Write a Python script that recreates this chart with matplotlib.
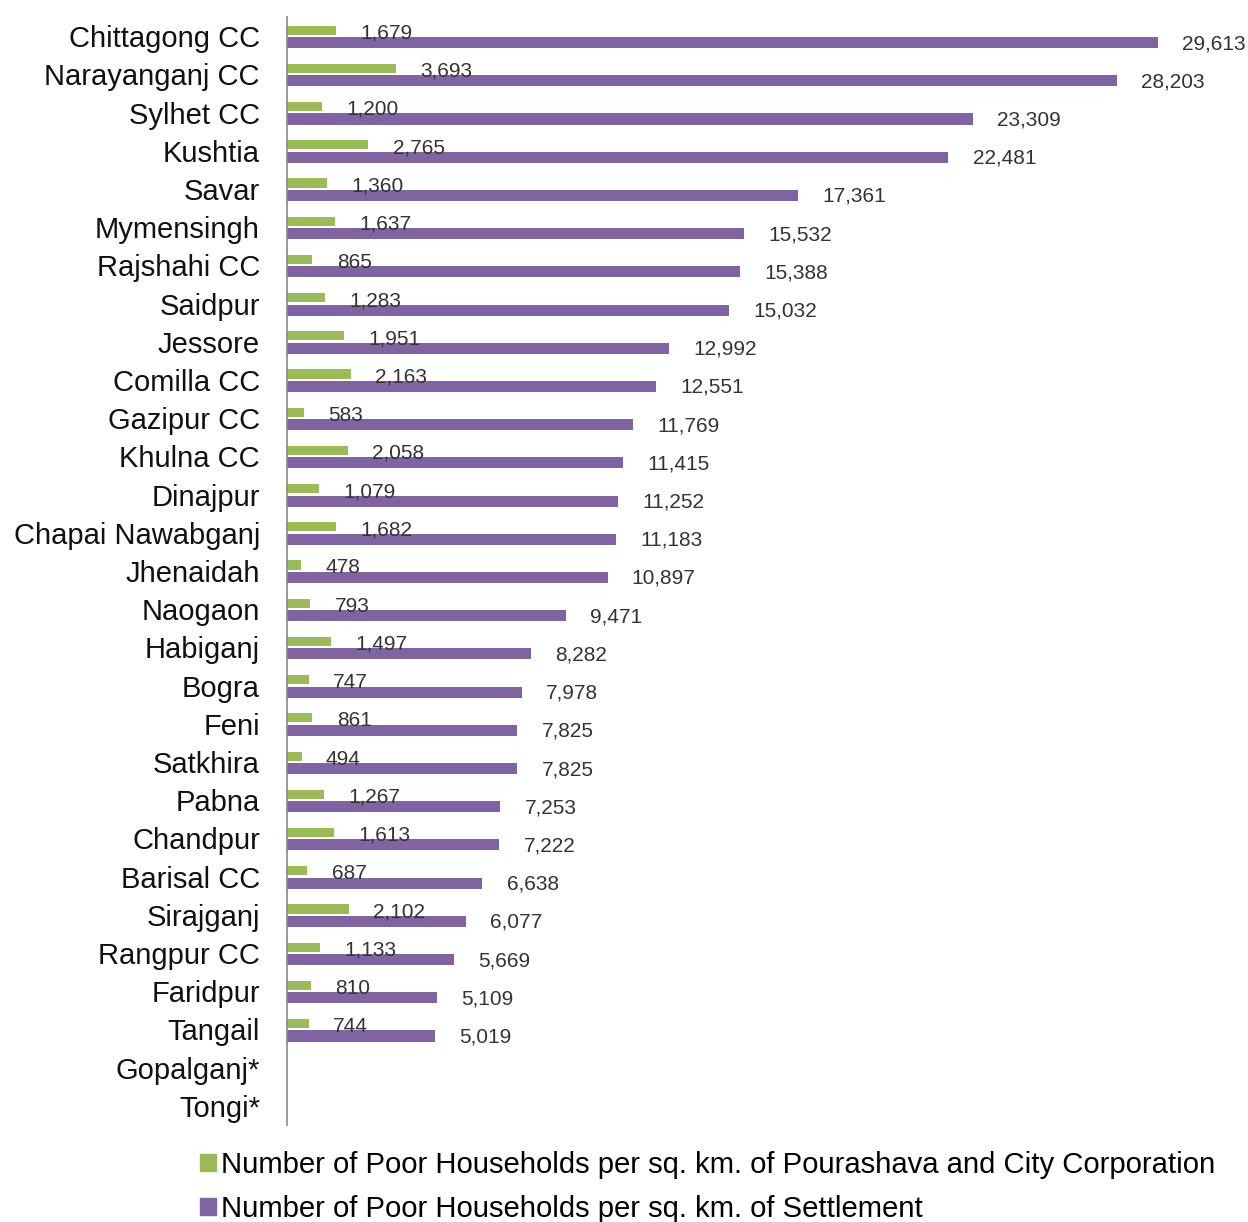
import matplotlib
matplotlib.use("Agg")
import matplotlib.pyplot as plt
from matplotlib.patches import Patch
import numpy as np

categories = ["Chittagong CC", "Narayanganj CC", "Sylhet CC", "Kushtia", "Savar",
              "Mymensingh", "Rajshahi CC", "Saidpur", "Jessore", "Comilla CC",
              "Gazipur CC", "Khulna CC", "Dinajpur", "Chapai Nawabganj", "Jhenaidah",
              "Naogaon", "Habiganj", "Bogra", "Feni", "Satkhira", "Pabna", "Chandpur",
              "Barisal CC", "Sirajganj", "Rangpur CC", "Faridpur", "Tangail",
              "Gopalganj*", "Tongi*"]
pourashava = [1679, 3693, 1200, 2765, 1360, 1637, 865, 1283, 1951, 2163,
              583, 2058, 1079, 1682, 478, 793, 1497, 747, 861, 494, 1267, 1613,
              687, 2102, 1133, 810, 744, None, None]
settlement = [29613, 28203, 23309, 22481, 17361, 15532, 15388, 15032, 12992, 12551,
              11769, 11415, 11252, 11183, 10897, 9471, 8282, 7978, 7825, 7825, 7253, 7222,
              6638, 6077, 5669, 5109, 5019, None, None]
series_names = ["Number of Poor Households per sq. km. of Pourashava and City Corporation",
                "Number of Poor Households per sq. km. of Settlement"]

GREEN = "#9BBB59"
PURPLE = "#8064A2"
FONT = ["Liberation Sans", "DejaVu Sans"]
plt.rcParams["font.family"] = FONT

W, H = 1248, 1222
fig = plt.figure(figsize=(W / 100, H / 100), dpi=100)
ax_left, ax_right = 287, 1240
ax_top, ax_bot = 17, 1125
ax = fig.add_axes([ax_left / W, 1 - ax_bot / H, (ax_right - ax_left) / W, (ax_bot - ax_top) / H])

n = len(categories)
y = np.arange(n)
off = 0.17
for i in range(n):
    g = pourashava[i]
    p = settlement[i]
    if g is not None:
        ax.barh(y[i] - off + 0.015, g, height=0.24, color=GREEN)
        ax.annotate(f"{g:,}", (g, y[i] - off), xytext=(17.5, -2.5), textcoords="offset points",
                    va="center", ha="left", fontsize=15, color="#333333")
    if p is not None:
        ax.barh(y[i] + off, p, height=0.29, color=PURPLE)
        ax.annotate(f"{p:,}", (p, y[i] + off), xytext=(17.5, -0.7), textcoords="offset points",
                    va="center", ha="left", fontsize=15, color="#333333")

ax.set_ylim(n - 0.5, -0.5)
ax.set_xlim(0, 29613 * (ax_right - ax_left) / 871)
ax.set_yticks(y)
ax.set_yticklabels(categories, fontsize=21, color="#111111")
ax.tick_params(axis="y", length=0, pad=19.5)
ax.set_xticks([])
for s in ["top", "right", "bottom"]:
    ax.spines[s].set_visible(False)
ax.spines["left"].set_color("#888888")
ax.spines["left"].set_linewidth(1.2)

handles = [Patch(color=GREEN), Patch(color=PURPLE)]
fig.legend(handles, series_names, loc="upper left", bbox_to_anchor=(200 / W, 1 - 1151 / H),
           frameon=False, fontsize=21.1, borderpad=0, borderaxespad=0,
           handlelength=0.53, handleheight=0.53, handletextpad=0.2, labelspacing=0.55)

fig.savefig("out.png", dpi=100)
